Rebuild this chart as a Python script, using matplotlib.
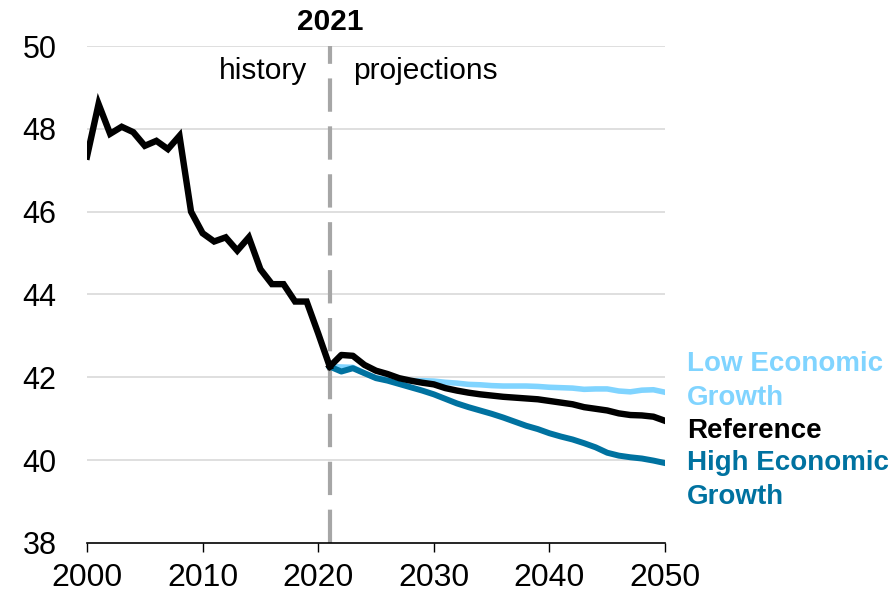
import matplotlib
matplotlib.use("Agg")
import matplotlib.pyplot as plt

# Data
hist_years = list(range(2000, 2022))
hist_vals = [47.33, 48.60, 47.88, 48.05, 47.92, 47.59, 47.71, 47.51, 47.83, 46.00,
             45.48, 45.28, 45.38, 45.06, 45.38, 44.61, 44.25, 44.25, 43.83, 43.83,
             43.06, 42.26]

proj_years = list(range(2021, 2051))
reference = [42.26, 42.54, 42.52, 42.30, 42.16, 42.08, 41.98, 41.92, 41.87, 41.83,
             41.74, 41.68, 41.63, 41.59, 41.56, 41.53, 41.51, 41.49, 41.47, 41.43,
             41.39, 41.35, 41.28, 41.24, 41.20, 41.13, 41.09, 41.08, 41.05, 40.95]
low_growth = [42.26, 42.25, 42.24, 42.10, 41.99, 41.94, 41.90, 41.92, 41.92, 41.91,
              41.88, 41.86, 41.83, 41.82, 41.80, 41.79, 41.79, 41.79, 41.78, 41.76,
              41.75, 41.74, 41.71, 41.72, 41.72, 41.67, 41.65, 41.69, 41.70, 41.64]
high_growth = [42.26, 42.14, 42.22, 42.10, 41.98, 41.92, 41.84, 41.76, 41.68, 41.59,
               41.48, 41.37, 41.28, 41.20, 41.12, 41.03, 40.93, 40.83, 40.75, 40.65,
               40.57, 40.50, 40.41, 40.31, 40.18, 40.11, 40.07, 40.04, 39.99, 39.93]

light_blue = "#80D4FF"
dark_blue = "#0072A0"

plt.rcParams["font.family"] = ["Liberation Sans", "DejaVu Sans"]

fig = plt.figure(figsize=(8.91, 5.93), dpi=100)
ax = fig.add_axes([87 / 891, 1 - 543 / 593, (665 - 87) / 891, (543 - 46) / 593])

ax.set_xlim(2000, 2050)
ax.set_ylim(38, 50)
ax.set_yticks([38, 40, 42, 44, 46, 48, 50])
ax.set_xticks([2000, 2010, 2020, 2030, 2040, 2050])
ax.tick_params(axis="y", length=0, labelsize=22, pad=22)
ax.tick_params(axis="x", length=6.5, width=1, labelsize=23, direction="out", pad=8)
for s in ["top", "right", "left"]:
    ax.spines[s].set_visible(False)
ax.spines["bottom"].set_color("black")
ax.spines["bottom"].set_linewidth(1.2)
for v in [40, 42, 44, 46, 48, 50]:
    ax.axhline(v, color="#D9D9D9", lw=1.2, zorder=0)

ax.plot([2021, 2021], [38, 50], color="#A6A6A6", lw=3, dashes=(8, 3.5), zorder=1)

ax.plot(proj_years, low_growth, color=light_blue, lw=4, zorder=2)
ax.plot(proj_years, high_growth, color=dark_blue, lw=4.3, zorder=3)
ax.plot(proj_years, reference, color="black", lw=4.6, zorder=4)
ax.plot(hist_years, hist_vals, color="black", lw=4.6, zorder=4, solid_joinstyle="miter")

ax.text(2021, 50.58, "2021", ha="center", va="center", fontsize=21.5, fontweight="bold")
ax.text(2019.05, 49.2, "history", ha="right", va="baseline", fontsize=21.5)
ax.text(2023.0, 49.2, "projections", ha="left", va="baseline", fontsize=21.5)

lab = dict(fontsize=20, fontweight="bold", ha="left", va="center",
           linespacing=1.4, clip_on=False)
ax.text(2051.9, 41.91, "Low Economic\nGrowth", color=light_blue, **lab)
ax.text(2051.9, 40.7, "Reference", color="black", **lab)
ax.text(2051.9, 39.51, "High Economic\nGrowth", color=dark_blue, **lab)

fig.savefig("out.png", dpi=100)
